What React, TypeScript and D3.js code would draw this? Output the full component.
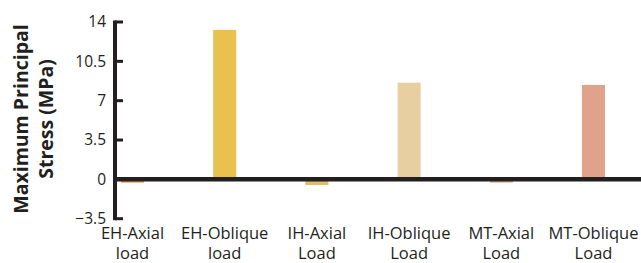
import React, { useEffect, useRef } from "react";
import * as d3 from "d3";

const categories = ["EH-Axial|load", "EH-Oblique|load", "IH-Axial|Load", "IH-Oblique|Load", "MT-Axial|Load", "MT-Oblique|Load"];
const stress = [-0.3, 13.3, -0.5, 8.6, -0.3, 8.4];
const barColors = ["#E9A55C", "#E9C24D", "#DDBE6A", "#E7CFA2", "#E4B5A5", "#E1A28C"];
const yTicks = [-3.5, 0, 3.5, 7, 10.5, 14];

const App = () => {
  const svgRef = useRef<SVGSVGElement>(null);

  useEffect(() => {
    const width = 641;
    const height = 263;
    const svg = d3.select(svgRef.current).attr("width", width).attr("height", height);
    svg.selectAll("*").remove();

    const font = "'Open Sans', sans-serif";
    const ink = "#231f20";

    const y = d3.scaleLinear().domain([-3.5, 14]).range([218.7, 22]);
    const x = d3
      .scaleBand()
      .domain(categories)
      .range([86.4, 639.6])
      .paddingInner(0.75)
      .paddingOuter(0.375);

    // bars
    svg
      .append("g")
      .selectAll("rect")
      .data(categories)
      .join("rect")
      .attr("x", (d) => x(d))
      .attr("width", x.bandwidth())
      .attr("y", (d, i) => y(Math.max(0, stress[i])))
      .attr("height", (d, i) => Math.abs(y(stress[i]) - y(0)))
      .attr("fill", (d, i) => barColors[i]);

    // zero line
    svg
      .append("line")
      .attr("x1", 114)
      .attr("x2", width)
      .attr("y1", y(0))
      .attr("y2", y(0))
      .attr("stroke", ink)
      .attr("stroke-width", 4.5);

    // y axis
    const axisG = svg.append("g").attr("transform", "translate(115,0)");
    axisG
      .append("line")
      .attr("y1", y(14) - 1.5)
      .attr("y2", y(-3.5) + 1.5)
      .attr("stroke", ink)
      .attr("stroke-width", 4);
    axisG
      .selectAll("line.tick")
      .data(yTicks)
      .join("line")
      .attr("class", "tick")
      .attr("x1", 0)
      .attr("x2", 8)
      .attr("y1", (d) => y(d))
      .attr("y2", (d) => y(d))
      .attr("stroke", ink)
      .attr("stroke-width", 3);
    axisG
      .selectAll("text")
      .data(yTicks)
      .join("text")
      .attr("x", -9)
      .attr("y", (d) => y(d))
      .attr("dy", "0.35em")
      .attr("text-anchor", "end")
      .style("font-family", font)
      .style("font-size", "15.5px")
      .style("fill", ink)
      .text((d) => (d < 0 ? "\u2212" + Math.abs(d) : String(d)));

    // category labels
    const labels = svg
      .append("g")
      .selectAll("text")
      .data(categories)
      .join("text")
      .attr("text-anchor", "middle")
      .style("font-family", font)
      .style("font-size", "16.5px")
      .style("fill", ink);
    labels
      .append("tspan")
      .attr("x", (d) => x(d) + x.bandwidth() / 2)
      .attr("y", 239)
      .text((d) => d.split("|")[0]);
    labels
      .append("tspan")
      .attr("x", (d) => x(d) + x.bandwidth() / 2)
      .attr("y", 259)
      .text((d) => d.split("|")[1]);

    // y title
    const title = svg
      .append("text")
      .attr("transform", "translate(0,119) rotate(-90)")
      .attr("text-anchor", "middle")
      .style("font-family", font)
      .style("font-weight", "bold")
      .style("font-size", "19.5px")
      .style("fill", ink);
    title.append("tspan").attr("x", 0).attr("y", 28).text("Maximum Principal");
    title.append("tspan").attr("x", 0).attr("y", 53).text("Stress (MPa)");
  }, []);

  return (
    <div style={{ position: "absolute", left: 0, top: 0 }}>
      <svg ref={svgRef}></svg>
    </div>
  );
};

export default App;
